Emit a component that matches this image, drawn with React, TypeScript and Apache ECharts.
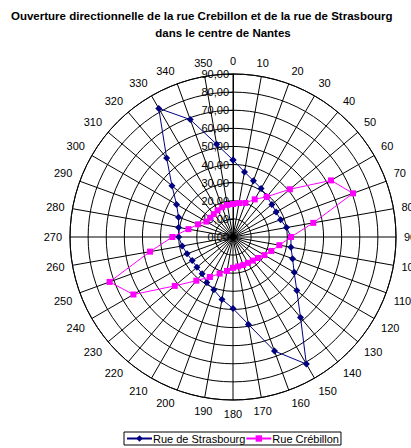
import React, { useEffect, useRef } from "react";
import * as echarts from "echarts";

const directions = [0, 10, 20, 30, 40, 50, 60, 70, 80, 90, 100, 110, 120, 130, 140, 150, 160, 170, 180, 190, 200, 210, 220, 230, 240, 250, 260, 270, 280, 290, 300, 310, 320, 330, 340, 350];
const strasbourg = [42.5, 36.5, 33, 31, 29, 28, 27.5, 28, 30, 32, 32.5, 35, 39, 46, 58, 81, 67, 49, 39.5, 35, 31, 29, 26.5, 26, 26, 27, 28.5, 30, 30.5, 32, 36, 44, 57, 82, 69, 52];
const crebillon = [18.2, 19, 20, 24, 29, 41, 62.5, 70.5, 45, 32, 26, 22.5, 20, 18, 17, 16.5, 16.5, 16.5, 17, 19, 21.5, 25.5, 31.5, 42, 63.5, 72.5, 46.5, 33.5, 25, 20.5, 17, 16.5, 16.5, 17, 17.5, 18];
const titleLine1 = "Ouverture directionnelle de la rue Crebillon et de la rue de Strasbourg";
const titleLine2 = "dans le centre de Nantes";
const seriesNames = ["Rue de Strasbourg", "Rue Crébillon"];

const FONT = "Arial, 'Liberation Sans', sans-serif";

function closedLoop(values: number[]) {
  const pts = values.map((v, i) => [v, directions[i]]);
  pts.push([values[0], 360]);
  return pts;
}

export default function App() {
  const ref = useRef<HTMLDivElement>(null);
  useEffect(() => {
    if (!ref.current) return;
    const chart = echarts.init(ref.current, null, { renderer: "svg" });
    chart.setOption({
      animation: false,
      backgroundColor: "#ffffff",
      textStyle: { fontFamily: FONT },
      title: [
        {
          text: titleLine1,
          left: 11,
          top: 10,
          padding: 0,
          textStyle: { fontFamily: FONT, fontSize: 11.5, fontWeight: "bold", color: "#000" },
        },
        {
          text: titleLine2,
          left: 223,
          textAlign: "center",
          top: 27,
          padding: 0,
          textStyle: { fontFamily: FONT, fontSize: 11.5, fontWeight: "bold", color: "#000" },
        },
      ],
      legend: {
        data: seriesNames,
        left: 124,
        top: 432,
        padding: [1, 2, 1, 2],
        itemGap: 0,
        itemWidth: 25,
        itemHeight: 8,
        borderColor: "#000",
        borderWidth: 1,
        borderRadius: 0,
        textStyle: { fontFamily: FONT, fontSize: 11, color: "#000", padding: [0, 0, 0, -4] },
      },
      polar: { center: [233, 237], radius: 163 },
      angleAxis: {
        type: "value",
        min: 0,
        max: 360,
        interval: 10,
        startAngle: 90,
        clockwise: true,
        axisLine: { show: true, lineStyle: { color: "#000", width: 1 } },
        axisTick: { show: false },
        splitLine: { show: true, lineStyle: { color: "#000", width: 1 } },
        axisLabel: {
          margin: 8,
          fontSize: 11,
          color: "#000",
          fontFamily: FONT,
          formatter: (v: number) => (v >= 360 ? "" : String(v)),
        },
      },
      radiusAxis: {
        type: "value",
        min: 0,
        max: 90,
        interval: 10,
        axisLine: { show: true, lineStyle: { color: "#000", width: 1 } },
        axisTick: { show: true, length: 5, lineStyle: { color: "#000" } },
        splitLine: { show: true, lineStyle: { color: "#000", width: 1 } },
        axisLabel: {
          fontSize: 11,
          color: "#000",
          fontFamily: FONT,
          margin: 4,
          formatter: (v: number) => v.toFixed(2).replace(".", ","),
        },
        z: 3,
      },
      series: [
        {
          name: seriesNames[0],
          type: "line",
          coordinateSystem: "polar",
          data: closedLoop(strasbourg),
          symbol: "diamond",
          symbolSize: 7,
          color: "#000080",
          lineStyle: { color: "#000080", width: 1 },
          itemStyle: { color: "#000080" },
          z: 5,
        },
        {
          name: seriesNames[1],
          type: "line",
          coordinateSystem: "polar",
          data: closedLoop(crebillon),
          symbol: "rect",
          symbolSize: 6,
          color: "#FF00FF",
          lineStyle: { color: "#FF00FF", width: 1 },
          itemStyle: { color: "#FF00FF" },
          z: 6,
        },
      ],
    });
    return () => chart.dispose();
  }, []);
  return <div ref={ref} style={{ width: 411, height: 448, position: "absolute", left: 0, top: 0 }} />;
}
